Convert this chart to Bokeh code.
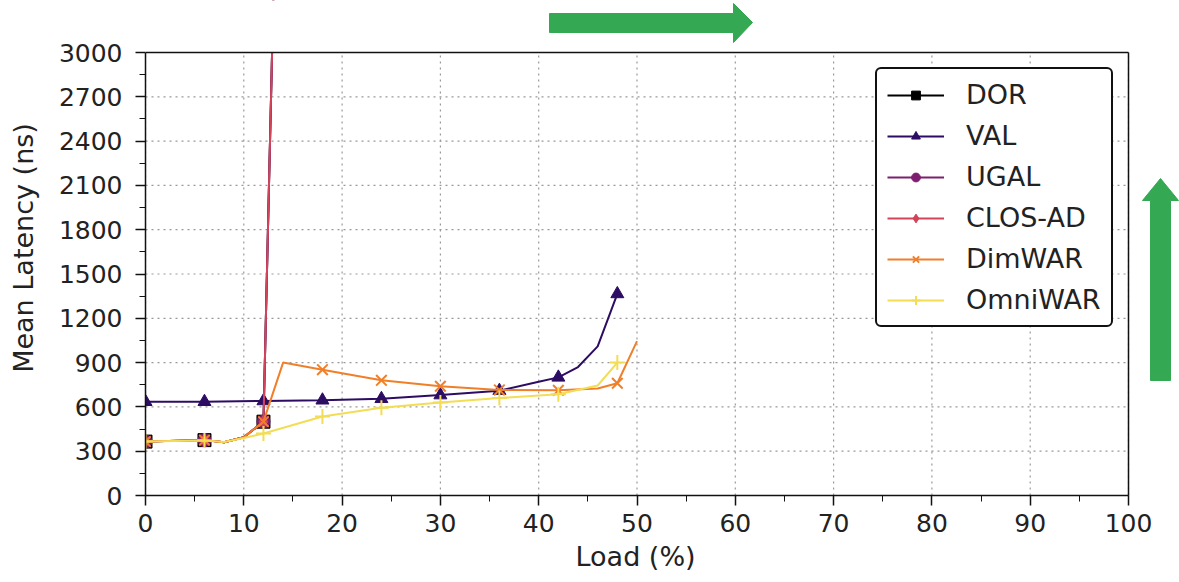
from bokeh.plotting import figure
from bokeh.models import Range1d, FixedTicker, Title
from bokeh.embed import file_html
from bokeh.resources import INLINE

# ---------------- data ----------------
marker_loads = [0, 6, 12, 18, 24, 30, 36, 42, 48]

dor_x = [0, 6, 8, 10, 12, 14]
dor_y = [365, 375, 360, 395, 500, 6200]

val_x = [0, 6, 12, 18, 24, 30, 36, 40, 42, 44, 46, 48]
val_y = [635, 635, 640, 645, 655, 680, 710, 770, 800, 870, 1010, 1365]

ugal_x = [0, 6, 8, 10, 12, 14]
ugal_y = [365, 375, 360, 395, 500, 6200]

clos_x = [0, 6, 8, 10, 12, 14]
clos_y = [365, 375, 360, 395, 500, 6200]

dimwar_x = [0, 6, 8, 10, 12, 14, 18, 24, 30, 36, 42, 46, 48, 50]
dimwar_y = [365, 375, 360, 395, 500, 900, 852, 780, 740, 715, 712, 725, 760, 1045]

omni_x = [0, 6, 8, 10, 12, 18, 24, 30, 36, 42, 46, 48]
omni_y = [365, 372, 362, 390, 420, 535, 595, 630, 660, 685, 745, 900]

series = [
    ("DOR", dor_x, dor_y, "#000000", "square"),
    ("VAL", val_x, val_y, "#2d0c63", "triangle"),
    ("UGAL", ugal_x, ugal_y, "#7d1f6e", "circle"),
    ("CLOS-AD", clos_x, clos_y, "#d3435a", "diamond"),
    ("DimWAR", dimwar_x, dimwar_y, "#f07f2a", "x"),
    ("OmniWAR", omni_x, omni_y, "#f3dd55", "cross"),
]

x_ticks = [0, 10, 20, 30, 40, 50, 60, 70, 80, 90, 100]
y_ticks = [0, 300, 600, 900, 1200, 1500, 1800, 2100, 2400, 2700, 3000]

# decorative green arrows (page pixel outlines)
harrow_px = [549, 733, 733, 752, 733, 733, 549]
harrow_py = [13, 13, 3, 22, 42, 32, 32]
varrow_px = [1160, 1178, 1170, 1170, 1150, 1150, 1142]
varrow_py = [178, 200, 200, 380, 380, 200, 200]
GREEN = "#34a853"

# ---------------- geometry ----------------
W, H = 1179, 582
LEFT, BOTTOM = 145, 87           # page px of the axes
AX_W, AX_H = 983, 443            # px covered by 0..100 and 0..3000
XMAX, YMAX = x_ticks[-1], y_ticks[-1]
x_end = (W - LEFT) / AX_W * XMAX          # frame extends to the page edge
y_end = (H - BOTTOM) / AX_H * YMAX


def dx(px):
    return (px - LEFT) / AX_W * XMAX


def dy(py):
    return (H - BOTTOM - py) / AX_H * YMAX


FONT = "DejaVu Sans"
p = figure(width=W, height=H, output_backend="svg", toolbar_location=None,
           x_range=Range1d(0, x_end), y_range=Range1d(0, y_end),
           min_border_left=LEFT, min_border_right=0, min_border_top=0,
           min_border_bottom=BOTTOM)
p.background_fill_color = "white"
p.border_fill_color = "white"
p.outline_line_color = None
p.grid.visible = False

for ax in (p.xaxis[0], p.yaxis[0]):
    ax.axis_line_color = "#111111"
    ax.axis_line_width = 1.5
    ax.major_tick_in = 0
    ax.major_tick_out = 10
    ax.minor_tick_in = 0
    ax.minor_tick_out = 6
    ax.major_tick_line_width = 1.5
    ax.major_tick_line_color = "#111111"
    ax.minor_tick_line_color = "#111111"
    ax.major_label_text_font = FONT
    ax.major_label_text_font_size = "25px"
    ax.major_label_text_color = "#222222"
    ax.axis_label_text_font = FONT
    ax.axis_label_text_font_size = "27px"
    ax.axis_label_text_font_style = "normal"
    ax.axis_label_text_color = "#222222"

p.xaxis.bounds = (0, XMAX)
p.yaxis.bounds = (0, YMAX)
p.xaxis.ticker = FixedTicker(ticks=x_ticks, minor_ticks=list(range(0, XMAX + 1, 5)))
p.yaxis.ticker = FixedTicker(ticks=y_ticks, minor_ticks=list(range(0, YMAX + 1, 150)))
p.yaxis.axis_label = "Mean Latency (ns)"
p.xaxis.major_label_standoff = 8
p.yaxis.major_label_standoff = 13
p.yaxis.axis_label_standoff = 17

# x-axis title placed under the 0..100 axis (the frame reaches the page edge)
x_title = Title(text="Load (%)", align="left", offset=430,
                text_font=FONT, text_font_size="27px", text_font_style="normal",
                text_color="#222222", standoff=9)
p.add_layout(x_title, "below")

# dotted grid limited to the axes box
grid_style = dict(line_color="#999999", line_dash="2 4", line_width=1.2, level="underlay")
p.segment(x0=x_ticks, y0=[0] * len(x_ticks), x1=x_ticks, y1=[YMAX] * len(x_ticks), **grid_style)
p.segment(x0=[0] * len(y_ticks), y0=y_ticks, x1=[XMAX] * len(y_ticks), y1=y_ticks, **grid_style)

for name, xs, ys, color, marker in series:
    p.line(xs, ys, line_color=color, line_width=2, legend_label=name)
    mx = [x for x in xs if x in marker_loads]
    my = [y for x, y in zip(xs, ys) if x in marker_loads]
    if marker in ("x", "cross"):
        p.scatter(mx, my, marker=marker, size=15, line_color=color, line_width=2,
                  legend_label=name)
    else:
        p.scatter(mx, my, marker=marker, size=13, fill_color=color,
                  line_color=color, line_width=1, legend_label=name)

# hide whatever runs above the top of the axes box (inside the frame only)
p.quad(left=0, right=x_end, bottom=YMAX, top=y_end,
       fill_color="white", fill_alpha=1, line_alpha=0, level="overlay")
# top and right borders of the axes box
p.line([0, XMAX], [YMAX, YMAX], line_color="#111111", line_width=1.5, level="overlay")
p.line([XMAX, XMAX], [0, YMAX], line_color="#111111", line_width=1.5, level="overlay")

# green arrows
p.patch([dx(v) for v in harrow_px], [dy(v) for v in harrow_py],
        fill_color=GREEN, line_color=GREEN, level="overlay")
p.patch([dx(v) for v in varrow_px], [dy(v) for v in varrow_py],
        fill_color=GREEN, line_color=GREEN, level="overlay")

lg = p.legend[0]
lg.location = (875 - LEFT, H - BOTTOM - 327)
lg.margin = 0
lg.border_line_color = "#111111"
lg.border_line_alpha = 1
lg.border_line_width = 2
lg.background_fill_alpha = 1
lg.label_text_font = FONT
lg.label_text_font_size = "27px"
lg.label_text_color = "#222222"
lg.glyph_width = 57
lg.glyph_height = 22
lg.label_standoff = 22
lg.spacing = 10
lg.padding = 10
if "border_radius" in lg.properties():
    lg.border_radius = 6

open("out.html", "w").write(file_html(p, INLINE))
